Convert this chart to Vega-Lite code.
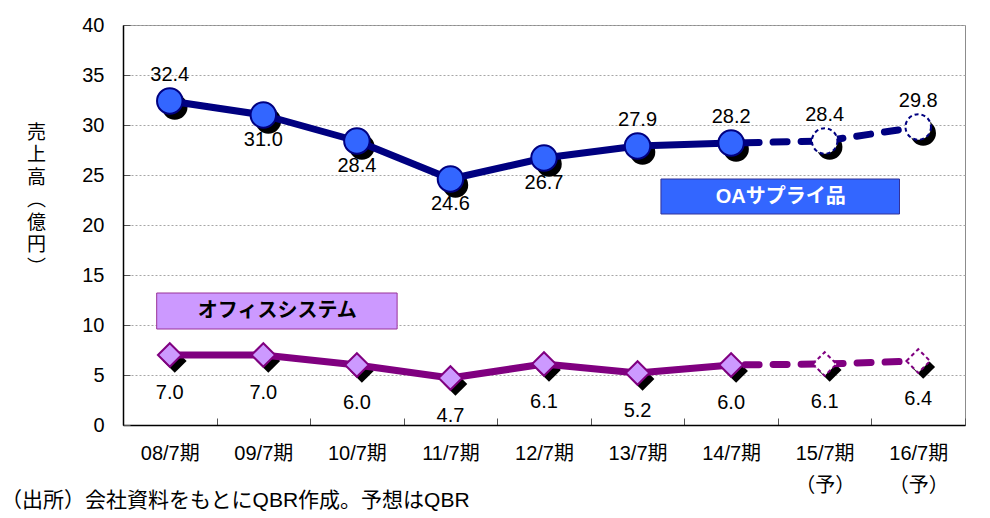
{
  "$schema": "https://vega.github.io/schema/vega-lite/v6.json",
  "width": 842,
  "height": 400,
  "autosize": "none",
  "padding": {"left": 123, "top": 25, "right": 25, "bottom": 93},
  "background": "white",
  "config": {
    "view": {"stroke": "#8c8c8c", "strokeWidth": 1},
    "font": "Liberation Sans, Noto Sans CJK JP"
  },
  "title": {
    "text": "（出所）会社資料をもとにQBR作成。予想はQBR",
    "orient": "bottom",
    "anchor": "start",
    "frame": "group",
    "dx": -122,
    "offset": -5,
    "font": "Liberation Sans, Noto Sans CJK JP",
    "fontSize": 21,
    "fontWeight": "normal",
    "color": "black"
  },
  "datasets": {
    "sales": [
      {"period": "08/7期", "series": "OAサプライ品", "value": 32.4, "kind": "実績"},
      {"period": "09/7期", "series": "OAサプライ品", "value": 31.0, "kind": "実績"},
      {"period": "10/7期", "series": "OAサプライ品", "value": 28.4, "kind": "実績"},
      {"period": "11/7期", "series": "OAサプライ品", "value": 24.6, "kind": "実績"},
      {"period": "12/7期", "series": "OAサプライ品", "value": 26.7, "kind": "実績"},
      {"period": "13/7期", "series": "OAサプライ品", "value": 27.9, "kind": "実績"},
      {"period": "14/7期", "series": "OAサプライ品", "value": 28.2, "kind": "実績"},
      {"period": "15/7期", "series": "OAサプライ品", "value": 28.4, "kind": "予想"},
      {"period": "16/7期", "series": "OAサプライ品", "value": 29.8, "kind": "予想"},
      {"period": "08/7期", "series": "オフィスシステム", "value": 7.0, "kind": "実績"},
      {"period": "09/7期", "series": "オフィスシステム", "value": 7.0, "kind": "実績"},
      {"period": "10/7期", "series": "オフィスシステム", "value": 6.0, "kind": "実績"},
      {"period": "11/7期", "series": "オフィスシステム", "value": 4.7, "kind": "実績"},
      {"period": "12/7期", "series": "オフィスシステム", "value": 6.1, "kind": "実績"},
      {"period": "13/7期", "series": "オフィスシステム", "value": 5.2, "kind": "実績"},
      {"period": "14/7期", "series": "オフィスシステム", "value": 6.0, "kind": "実績"},
      {"period": "15/7期", "series": "オフィスシステム", "value": 6.1, "kind": "予想"},
      {"period": "16/7期", "series": "オフィスシステム", "value": 6.4, "kind": "予想"}
    ]
  },
  "resolve": {"scale": {"x": "independent"}},
  "layer": [
    {
      "data": {"name": "sales"},
      "encoding": {
        "x": {
          "field": "period",
          "type": "nominal",
          "sort": null,
          "scale": {"type": "band", "paddingInner": 0, "paddingOuter": 0},
          "axis": {
            "title": null,
            "labelAngle": 0,
            "labelFontSize": 20,
            "labelColor": "black",
            "labelPadding": 25,
            "labelLineHeight": 32,
            "labelBaseline": "top",
            "labelExpr": "(datum.value == '15/7期' || datum.value == '16/7期') ? [datum.value, '（予）'] : datum.value",
            "tickBand": "extent",
            "tickSize": -7,
            "tickColor": "#555555",
            "domainColor": "black",
            "domainWidth": 1.5,
            "grid": false
          }
        },
        "y": {
          "field": "value",
          "type": "quantitative",
          "scale": {"domain": [0, 40], "nice": false},
          "axis": {
            "title": ["売", "上", "高", "︵", "億", "円", "︶"],
            "titleAngle": 0,
            "titleFontSize": 19,
            "titleFontWeight": "normal",
            "titleFont": "Liberation Sans, Noto Sans CJK JP",
            "titleColor": "black",
            "titleLineHeight": 22.5,
            "titleAlign": "center",
            "titleBaseline": "top",
            "titleX": -87,
            "titleY": 98,
            "values": [0, 5, 10, 15, 20, 25, 30, 35, 40],
            "labelFontSize": 20,
            "labelColor": "black",
            "labelPadding": 26,
            "tickSize": -7,
            "tickColor": "#555555",
            "domainColor": "black",
            "domainWidth": 1.5,
            "grid": true,
            "gridColor": "#a6a6a6",
            "gridDash": [2, 2],
            "gridWidth": 1
          }
        }
      },
      "layer": [
        {
          "transform": [{"filter": "datum.series == 'OAサプライ品'"}],
          "mark": {"type": "point", "shape": "circle", "filled": true, "color": "black", "opacity": 1, "size": 650, "xOffset": 5, "yOffset": 6}
        },
        {
          "transform": [{"filter": "datum.series == 'オフィスシステム'"}],
          "mark": {"type": "point", "shape": "diamond", "filled": true, "color": "black", "opacity": 1, "size": 560, "xOffset": 5, "yOffset": 6}
        },
        {
          "transform": [{"filter": "datum.kind == '実績'"}],
          "mark": {"type": "line", "strokeWidth": 7, "strokeCap": "round", "strokeJoin": "round"},
          "encoding": {
            "color": {"field": "series", "type": "nominal", "scale": {"domain": ["OAサプライ品", "オフィスシステム"], "range": ["#000080", "#800080"]}, "legend": null}
          }
        },
        {
          "transform": [{"filter": "datum.period == '14/7期' || datum.kind == '予想'"}],
          "mark": {"type": "line", "strokeWidth": 7, "strokeCap": "round", "strokeDash": [14, 14], "strokeDashOffset": -14},
          "encoding": {
            "color": {"field": "series", "type": "nominal", "scale": {"domain": ["OAサプライ品", "オフィスシステム"], "range": ["#000080", "#800080"]}, "legend": null}
          }
        },
        {
          "transform": [{"filter": "datum.series == 'OAサプライ品' && datum.kind == '実績'"}],
          "mark": {"type": "point", "shape": "circle", "filled": true, "fill": "#3366ff", "stroke": "#000080", "strokeWidth": 2, "opacity": 1, "size": 650}
        },
        {
          "transform": [{"filter": "datum.series == 'OAサプライ品' && datum.kind == '予想'"}],
          "mark": {"type": "point", "shape": "circle", "filled": true, "fill": "white", "stroke": "#000080", "strokeWidth": 2, "strokeDash": [4, 3], "opacity": 1, "size": 650}
        },
        {
          "transform": [{"filter": "datum.series == 'オフィスシステム' && datum.kind == '実績'"}],
          "mark": {"type": "point", "shape": "diamond", "filled": true, "fill": "#cc99ff", "stroke": "#800080", "strokeWidth": 2, "opacity": 1, "size": 560}
        },
        {
          "transform": [{"filter": "datum.series == 'オフィスシステム' && datum.kind == '予想'"}],
          "mark": {"type": "point", "shape": "diamond", "filled": true, "fill": "white", "stroke": "#800080", "strokeWidth": 2, "strokeDash": [4, 3], "opacity": 1, "size": 560}
        },
        {
          "transform": [{"filter": "datum.series == 'OAサプライ品' && indexof(['08/7期', '13/7期', '14/7期', '15/7期', '16/7期'], datum.period) >= 0"}],
          "mark": {"type": "text", "fontSize": 20, "color": "black", "dy": -26},
          "encoding": {"text": {"field": "value", "type": "quantitative", "format": ".1f"}}
        },
        {
          "transform": [{"filter": "datum.series == 'OAサプライ品' && indexof(['08/7期', '13/7期', '14/7期', '15/7期', '16/7期'], datum.period) < 0"}],
          "mark": {"type": "text", "fontSize": 20, "color": "black", "dy": 25},
          "encoding": {"text": {"field": "value", "type": "quantitative", "format": ".1f"}}
        },
        {
          "transform": [{"filter": "datum.series == 'オフィスシステム'"}],
          "mark": {"type": "text", "fontSize": 20, "color": "black", "dy": 38},
          "encoding": {"text": {"field": "value", "type": "quantitative", "format": ".1f"}}
        }
      ]
    },
    {
      "data": {"values": [{"label": "OAサプライ品"}]},
      "layer": [
        {
          "mark": {"type": "rect", "fill": "#3366ff", "stroke": "#333399", "strokeWidth": 1},
          "encoding": {
            "x": {"datum": 5.75, "type": "quantitative", "scale": {"domain": [0, 9], "nice": false}, "axis": null},
            "x2": {"datum": 8.3},
            "y": {"datum": 24.6, "type": "quantitative"},
            "y2": {"datum": 21.1}
          }
        },
        {
          "mark": {"type": "text", "fontSize": 20, "fontWeight": "bold", "color": "white", "font": "Liberation Sans, Noto Sans CJK JP"},
          "encoding": {
            "x": {"datum": 7.03, "type": "quantitative", "scale": {"domain": [0, 9], "nice": false}, "axis": null},
            "y": {"datum": 22.85, "type": "quantitative"},
            "text": {"field": "label"}
          }
        }
      ]
    },
    {
      "data": {"values": [{"label": "オフィスシステム"}]},
      "layer": [
        {
          "mark": {"type": "rect", "fill": "#cc99ff", "stroke": "#993399", "strokeWidth": 1},
          "encoding": {
            "x": {"datum": 0.36, "type": "quantitative", "scale": {"domain": [0, 9], "nice": false}, "axis": null},
            "x2": {"datum": 2.93},
            "y": {"datum": 13.2, "type": "quantitative"},
            "y2": {"datum": 9.6}
          }
        },
        {
          "mark": {"type": "text", "fontSize": 20, "fontWeight": "bold", "color": "black", "font": "Noto Sans CJK JP"},
          "encoding": {
            "x": {"datum": 1.65, "type": "quantitative", "scale": {"domain": [0, 9], "nice": false}, "axis": null},
            "y": {"datum": 11.4, "type": "quantitative"},
            "text": {"field": "label"}
          }
        }
      ]
    }
  ]
}
